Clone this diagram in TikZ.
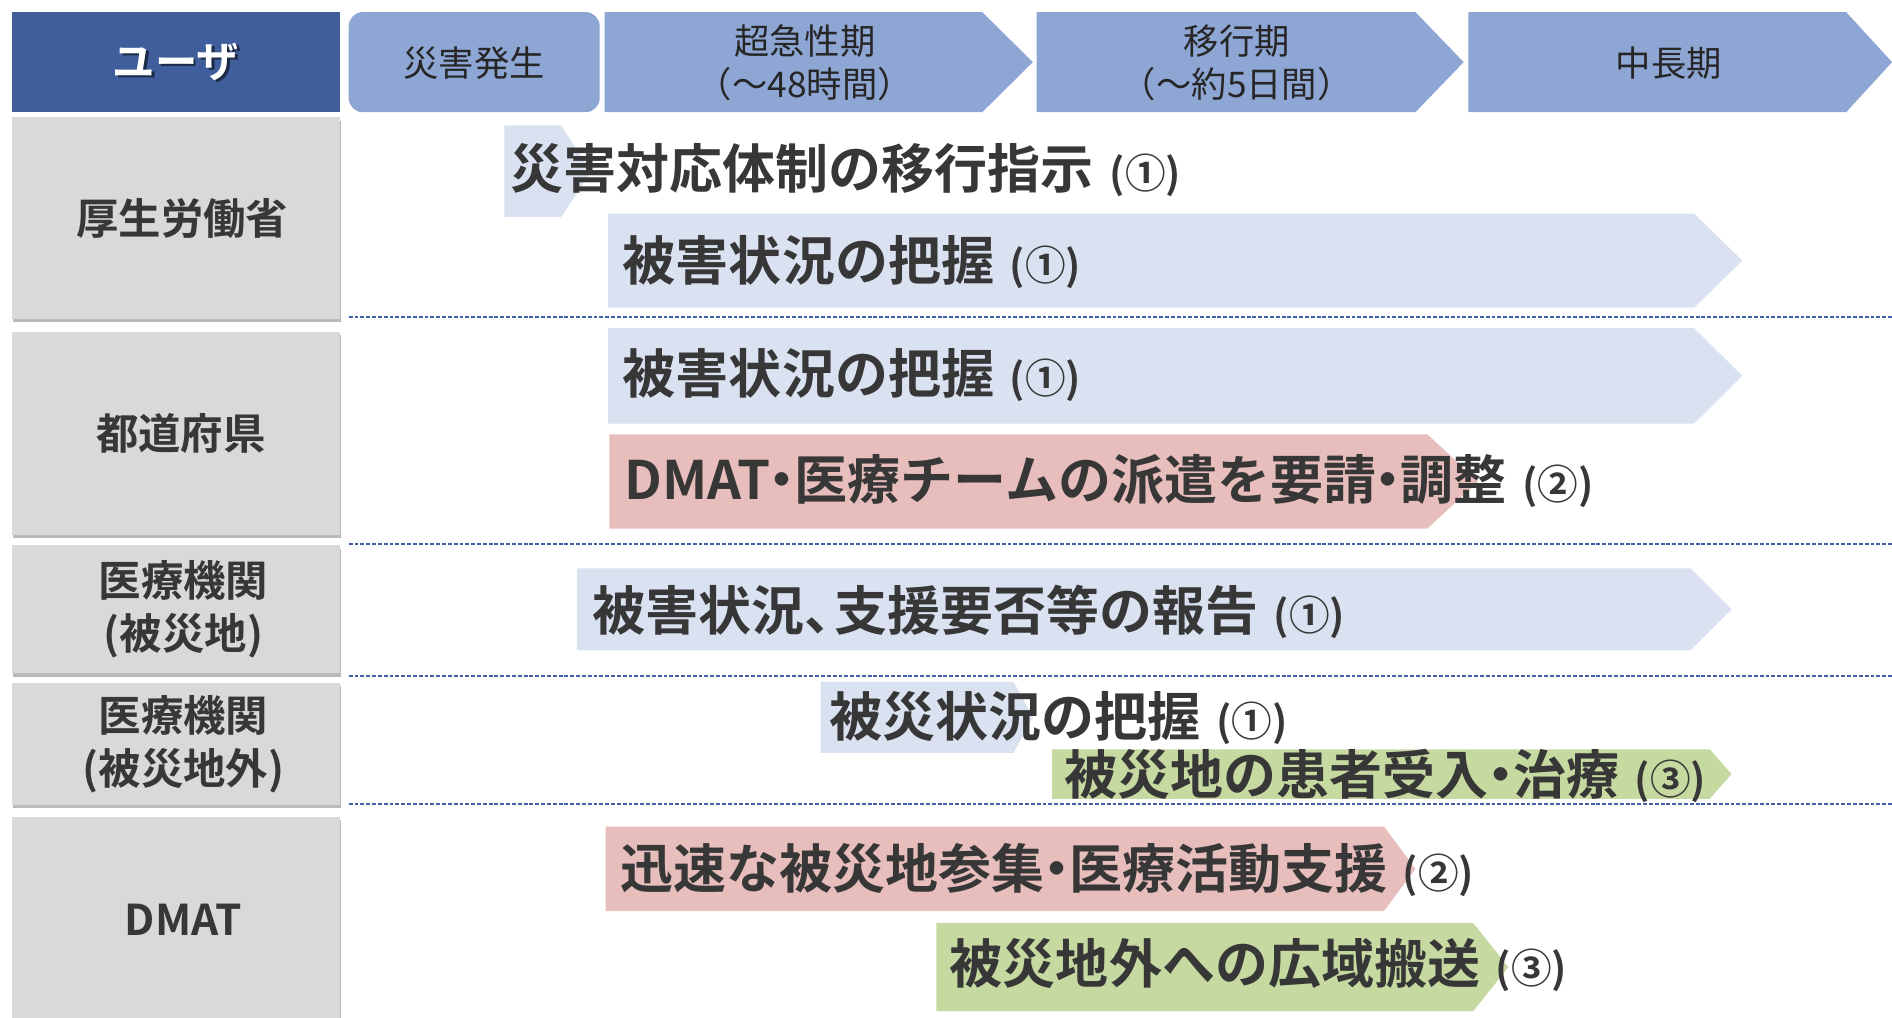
\documentclass[tikz,border=0pt]{standalone}
\usepackage{fontspec}
\newfontfamily\jp{Noto Sans CJK JP}[BoldFont={Noto Sans CJK JP Bold}]
\definecolor{hdrblue}{RGB}{63,94,155}
\definecolor{phaseblue}{RGB}{142,166,212}
\definecolor{barblue}{RGB}{218,225,241}
\definecolor{barpink}{RGB}{232,190,189}
\definecolor{bargreen}{RGB}{197,217,160}
\definecolor{lanegray}{RGB}{217,217,217}
\definecolor{txtdark}{RGB}{55,55,55}
\definecolor{dashblue}{RGB}{66,96,168}
\usetikzlibrary{shadows}
\newcommand{\circnum}[1]{\hspace{.3em}{\fontsize{23}{23}\selectfont(#1)}}
\newcommand{\nakadot}{\kern-.27em・\kern-.27em}

\begin{document}
\begin{tikzpicture}[x=0.024cm, y=-0.024cm,
  lanebox/.style={fill=lanegray, drop shadow={shadow xshift=0.6pt, shadow yshift=-2pt, opacity=0.45, fill=black!60}},
  lanelabel/.style={font=\jp\bfseries\fontsize{24}{30}\selectfont, text=txtdark, align=center, inner sep=0pt},
  phaselabel/.style={font=\jp\fontsize{20}{24.5}\selectfont, text=black!85, align=center, inner sep=0pt},
  bartext/.style={anchor=west, inner sep=0pt, font=\jp\bfseries\fontsize{30}{36}\selectfont, text=txtdark},
  sepline/.style={dashblue, line width=1.1pt, dash pattern=on 2.2pt off 1.1pt}]
  \useasboundingbox (0,0) rectangle (1568,843);

  % Header row
  \fill[hdrblue] (10,10) rectangle (282,93);
  \node[font=\jp\bfseries\fontsize{24}{24}\selectfont, text=black, opacity=0.55, inner sep=0pt] (userShadow) at (148,53) {ユーザ};
  \node[font=\jp\bfseries\fontsize{24}{24}\selectfont, text=white, inner sep=0pt] (user) at (146,51) {ユーザ};

  \fill[phaseblue, rounded corners=8pt] (289,10) rectangle (497,93);
  \node[phaselabel] (phaseStart) at (393,52) {災害発生};
  \fill[phaseblue] (501,10) -- (814,10) -- (856,51.5) -- (814,93) -- (501,93) -- cycle;
  \node[phaselabel] (phaseAcute) at (667,52) {超急性期\\（～48時間）};
  \fill[phaseblue] (859,10) -- (1173,10) -- (1213,51.5) -- (1173,93) -- (859,93) -- cycle;
  \node[phaselabel] (phaseTrans) at (1025,52) {移行期\\（～約5日間）};
  \fill[phaseblue] (1217,10) -- (1530,10) -- (1568,51.5) -- (1530,93) -- (1217,93) -- cycle;
  \node[phaselabel] (phaseLong) at (1383,52) {中長期};

  % User lanes
  \fill[lanebox] (10,97) rectangle (282,264);
  \node[lanelabel] (laneMhlw) at (151,181) {厚生労働省};
  \fill[lanebox] (10,275) rectangle (282,443);
  \node[lanelabel] (lanePref) at (150,359) {都道府県};
  \fill[lanebox] (10,452) rectangle (282,558);
  \node[lanelabel] (laneHospIn) at (152,505) {医療機関\\(被災地)};
  \fill[lanebox] (10,566) rectangle (282,667);
  \node[lanelabel] (laneHospOut) at (152,617) {医療機関\\(被災地外)};
  \fill[lanebox] (10,677) rectangle (282,850);
  \node[lanelabel] (laneDmat) at (152,762) {DMAT};

  % Separators
  \foreach \yy in {263,451,560,666.5}
    \draw[sepline] (289,\yy) -- (1568,\yy);

  % MHLW
  \fill[barblue] (418,104) -- (465,104) -- (490,142) -- (465,180) -- (418,180) -- cycle;
  \node[bartext] (mhlwOrder) at (423,141) {災害対応体制の移行指示\circnum{①}};
  \fill[barblue] (504,177) -- (1404,177) -- (1444,216) -- (1404,255) -- (504,255) -- cycle;
  \node[bartext] (mhlwGrasp) at (516,217) {被害状況の把握\circnum{①}};

  % Prefecture
  \fill[barblue] (504,272) -- (1404,272) -- (1444,311.5) -- (1404,351) -- (504,351) -- cycle;
  \node[bartext] (prefGrasp) at (516,311) {被害状況の把握\circnum{①}};
  \fill[barpink] (505,360) -- (1183,360) -- (1225,399) -- (1183,438) -- (505,438) -- cycle;
  \node[bartext] (prefRequest) at (517,399) {DMAT\nakadot 医療チームの派遣を要請\nakadot 調整\circnum{②}};

  % Hospitals in the disaster area
  \fill[barblue] (478,471) -- (1401,471) -- (1435,505) -- (1401,539) -- (478,539) -- cycle;
  \node[bartext] (hospReport) at (491,507) {被害状況、\kern-.45em 支援要否等の報告\circnum{①}};

  % Hospitals outside the disaster area
  \fill[barblue] (680,565) -- (840,565) -- (856,594.5) -- (840,624) -- (680,624) -- cycle;
  \node[bartext] (outGrasp) at (687,595) {被災状況の把握\circnum{①}};
  \fill[bargreen] (872,621) -- (1417,621) -- (1435,641.5) -- (1417,662) -- (872,662) -- cycle;
  \node[bartext] (outAccept) at (882,643) {被災地の患者受入\nakadot 治療\circnum{③}};

  % DMAT
  \fill[barpink] (502,685) -- (1147,685) -- (1173,720) -- (1147,755) -- (502,755) -- cycle;
  \node[bartext] (dmatGather) at (514,721) {迅速な被災地参集\nakadot 医療活動支援\circnum{②}};
  \fill[bargreen] (776,765) -- (1221,765) -- (1250,801.5) -- (1221,838) -- (776,838) -- cycle;
  \node[bartext] (dmatTransport) at (787,800) {被災地外への広域搬送\circnum{③}};
\end{tikzpicture}
\end{document}
